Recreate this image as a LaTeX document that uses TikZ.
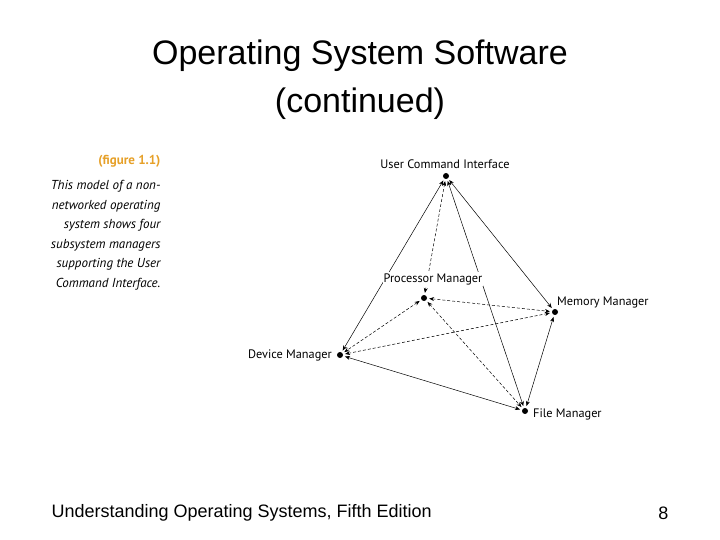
\documentclass[tikz,border=0pt]{standalone}
\usepackage{fontspec}
\setmainfont{Liberation Sans}
\newfontfamily\figfont{PT Sans}
\usetikzlibrary{arrows.meta}
\definecolor{figorange}{RGB}{230,160,40}
\begin{document}
\begin{tikzpicture}[x=1pt,y=-1pt,
  dot/.style={circle,fill=black,inner sep=0pt,minimum size=6pt},
  lab/.style={font=\figfont\fontsize{12.3}{14}\selectfont,inner sep=1pt},
  sol/.style={{Stealth[length=5pt,width=4pt]}-{Stealth[length=5pt,width=4pt]},line width=0.5pt,shorten >=2pt,shorten <=2pt},
  das/.style={sol,dashed,dash pattern=on 3pt off 2pt}]
\useasboundingbox (0,0) rectangle (720,540);
\node[font=\fontsize{34}{48}\selectfont,align=center] (title) at (360,80) {Operating System Software\\(continued)};
\node[anchor=west,font=\fontsize{18}{20}\selectfont] (foot) at (48,513) {Understanding Operating Systems, Fifth Edition};
\node[anchor=east,font=\fontsize{18}{20}\selectfont] (pg) at (672,513) {8};
\node[anchor=east,text=figorange,font=\figfont\bfseries\fontsize{13}{15}\selectfont] (fig) at (164,161) {(figure 1.1)};
\node[anchor=north east,align=right,font=\figfont\itshape\fontsize{13}{19.5}\selectfont] (cap) at (164,177) {This model of a non-\\networked operating\\system shows four\\subsystem managers\\supporting the User\\Command Interface.};
\node[dot] (u) at (446,176) {};
\node[dot] (p) at (424,298) {};
\node[dot] (m) at (555,312) {};
\node[dot] (d) at (340,355) {};
\node[dot] (f) at (525,411) {};
\draw[sol] (u) -- (d);
\draw[sol] (u) -- (m);
\draw[sol] (u) -- (f);
\draw[sol] (d) -- (f);
\draw[sol] (m) -- (f);
\draw[das] (u) -- (p);
\draw[das] (p) -- (d);
\draw[das] (p) -- (m);
\draw[das] (p) -- (f);
\draw[das] (d) -- (m);
\node[lab,anchor=south] (ul) at (445,170) {User Command Interface};
\node[lab,anchor=south,fill=white] (pl) at (433,286) {Processor Manager};
\node[lab,anchor=west] (ml) at (556,302) {Memory Manager};
\node[lab,anchor=east] (dl) at (333,355) {Device Manager};
\node[lab,anchor=west] (fl) at (532,414) {File Manager};
\end{tikzpicture}
\end{document}
